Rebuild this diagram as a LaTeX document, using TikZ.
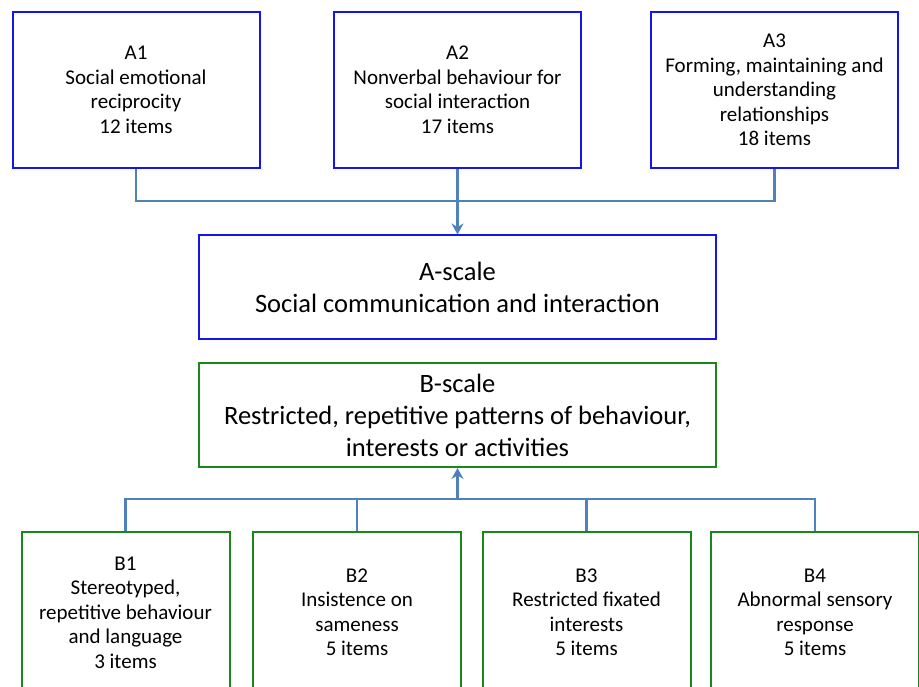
\documentclass[tikz,border=0pt]{standalone}
\usepackage{fontspec}
\setmainfont{Carlito}
\usetikzlibrary{arrows.meta}
\definecolor{boxblue}{RGB}{20,20,235}
\definecolor{boxgreen}{RGB}{25,135,25}
\definecolor{conn}{RGB}{79,129,189}
\begin{document}
\begin{tikzpicture}[x=1pt,y=-1pt,
  basebox/.style={line width=2pt,align=center,inner sep=0pt,fill=white},
  smallbox/.style={basebox,font=\fontsize{21}{24.5}\selectfont},
  bigbox/.style={basebox,font=\fontsize{26.5}{32}\selectfont,minimum width=517pt},
  abox/.style={smallbox,draw=boxblue,minimum width=247pt,minimum height=156pt},
  bbox/.style={smallbox,draw=boxgreen,minimum width=208pt,minimum height=161pt},
  conn/.style={draw=conn,line width=2.4pt},
  arr/.style={conn,-{Stealth[length=11pt,width=12pt]}}
]
\useasboundingbox (0,0) rectangle (919,687);
\clip (0,0) rectangle (919,687);
\fill[white] (0,0) rectangle (919,687);

\node[abox] (A1) at (136,90) {A1\\Social emotional\\reciprocity\\12 items};
\node[abox] (A2) at (457.5,90) {A2\\Nonverbal behaviour for\\social interaction\\17 items};
\node[abox] (A3) at (774.5,90) {A3\\Forming, maintaining and\\understanding\\relationships\\18 items};

\node[bigbox,draw=boxblue,minimum height=103pt] (As) at (457.5,287) {A-scale\\Social communication and interaction};
\node[bigbox,draw=boxgreen,minimum height=104pt] (Bs) at (457.5,415) {B-scale\\Restricted, repetitive patterns of behaviour,\\interests or activities};

\node[bbox] (B1) at (125.5,612.5) {B1\\Stereotyped,\\repetitive behaviour\\and language\\3 items};
\node[bbox] (B2) at (357,612.5) {B2\\Insistence on\\sameness\\5 items};
\node[bbox] (B3) at (586.5,612.5) {B3\\Restricted fixated\\interests\\5 items};
\node[bbox] (B4) at (815,612.5) {B4\\Abnormal sensory\\response\\5 items};

\coordinate (jA) at (457.5,201);
\coordinate (jB) at (457.5,499);

\draw[conn] (A1.south) |- (jA) -| (A3.south);
\draw[arr] (A2.south) -- (As.north);

\draw[conn] (B1.north) |- (jB) -| (B4.north);
\draw[conn] (B2.north) -- (B2.north |- jB);
\draw[conn] (B3.north) -- (B3.north |- jB);
\draw[arr] (jB) -- (Bs.south);
\end{tikzpicture}
\end{document}
